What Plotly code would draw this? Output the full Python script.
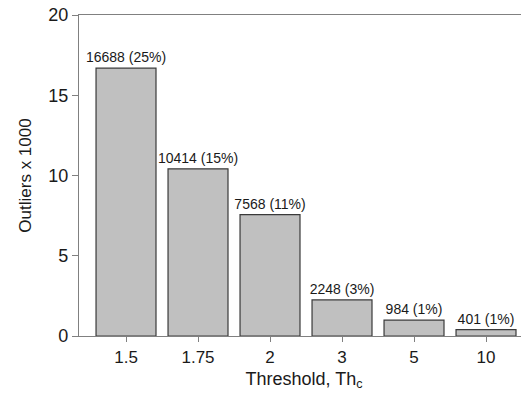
import plotly.graph_objects as go

categories = ["1.5", "1.75", "2", "3", "5", "10"]
outliers = [16688, 10414, 7568, 2248, 984, 401]
percents = [25, 15, 11, 3, 1, 1]

y_vals = [v / 1000 for v in outliers]
labels = [f"{v} ({p}%)" for v, p in zip(outliers, percents)]

fig = go.Figure(go.Bar(
    x=categories, y=y_vals, text=labels, textposition="outside",
    constraintext="none",
    textfont=dict(size=14, color="#1a1a1a"), cliponaxis=False,
    marker=dict(color="#c0c0c0", line=dict(color="#3a3a3a", width=1.2)),
))

fig.update_layout(
    width=529, height=394,
    margin=dict(l=71, r=8, t=7, b=66),
    paper_bgcolor="white", plot_bgcolor="white",
    font=dict(family="Liberation Sans, Arial, sans-serif", color="#1a1a1a"),
    bargap=0.167, showlegend=False,
)
fig.update_xaxes(
    type="category", range=[-0.653, 5.597], automargin=False,
    showline=True, linecolor="#808080", linewidth=1.2, mirror=True,
    ticks="outside", ticklen=5, tickcolor="#808080",
    tickfont=dict(size=17), showgrid=False, ticklabeloverflow="allow",
    title=dict(text="Threshold, Th<sub>c</sub>", font=dict(size=18), standoff=6),
)
fig.update_yaxes(
    range=[0, 20], tickvals=[0, 5, 10, 15, 20], automargin=False,
    showline=True, linecolor="#808080", linewidth=1.2,
    ticks="outside", ticklen=6, tickcolor="#808080",
    tickfont=dict(size=18), showgrid=False, zeroline=False,
    ticklabeloverflow="allow",
    title=dict(text="Outliers x 1000", font=dict(size=17), standoff=12),
)

fig.write_html("out.html")
